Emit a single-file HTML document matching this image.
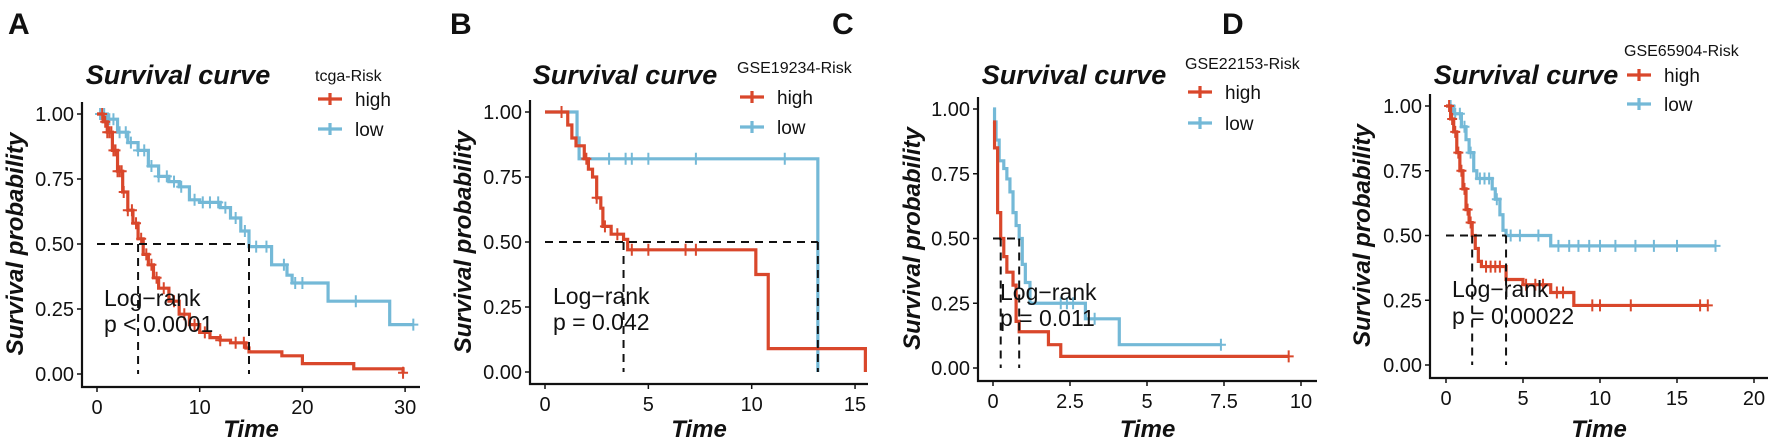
<!DOCTYPE html>
<html><head><meta charset="utf-8"><style>
body{margin:0;background:#fff}
svg{display:block}
text{font-family:"Liberation Sans",Arial,sans-serif;fill:#111}
</style></head><body>
<svg id="c" width="1772" height="442" xmlns="http://www.w3.org/2000/svg"></svg>
<script>
// ---- data ----
const aHighT=[0,0.6,1,1.5,2,2.5,3,3.5,4,4.5,5,5.5,6,7,8,9,10,11,12,13,14.5,14.8,18,20,25,29.8];
const aHighS=[1,0.97,0.93,0.86,0.78,0.7,0.63,0.58,0.52,0.46,0.42,0.37,0.33,0.28,0.23,0.19,0.16,0.14,0.13,0.12,0.1,0.085,0.07,0.04,0.02,0.005];
const aHighC=[0.5,0.8,1,1.2,1.4,1.6,1.8,2,2.2,2.4,2.6,3,3.4,3.8,4.3,4.8,5.3,5.8,6.5,7.5,8.5,9.5,10.5,12,13.5,14.3,29.8];
const aLowT=[0,1,2,3,4,5,6,7,8,9,10,12,13,14,14.8,17,18.5,19,22.5,28.5];
const aLowS=[1,0.98,0.93,0.89,0.86,0.8,0.76,0.74,0.72,0.67,0.66,0.64,0.6,0.55,0.49,0.42,0.38,0.35,0.28,0.19];
const aLowC=[0.3,0.7,1.2,1.6,2.2,2.8,3.3,4,4.6,5.3,6,6.8,7.5,8.2,9.5,10.3,11,11.8,12.5,13.5,14.4,15.5,16.5,18.2,19.3,20,25.2,30.8];
const bHighT=[0,1.1,1.3,1.5,1.9,2.1,2.3,2.5,2.7,2.8,3.2,3.8,4,10.2,10.8,15.5];
const bHighS=[1,0.95,0.9,0.87,0.82,0.78,0.75,0.67,0.63,0.56,0.53,0.51,0.47,0.375,0.09,0];
const bHighC=[0.8,2,2.5,2.9,3.5,4.2,5,6.8,7.3];
const bLowT=[0,1.55,1.65,13.2];
const bLowS=[1,0.9,0.82,0];
const bLowC=[3.1,3.9,4.2,5,7.3,11.6];
const cHighT=[0,0.05,0.15,0.25,0.35,0.45,0.65,0.75,0.85,1.8,2.2];
const cHighS=[0.95,0.85,0.6,0.5,0.43,0.37,0.32,0.18,0.14,0.09,0.045];
const cHighC=[9.6];
const cLowT=[0,0.05,0.1,0.2,0.35,0.45,0.55,0.65,0.75,0.85,0.95,1.05,1.2,3.0,4.1];
const cLowS=[1,0.95,0.88,0.8,0.77,0.73,0.68,0.6,0.55,0.5,0.4,0.33,0.25,0.19,0.09];
const cLowC=[2.2,2.4,2.6,3.3,7.4];
const dHighT=[0,0.3,0.5,0.7,0.9,1.1,1.3,1.5,1.7,1.9,2.1,2.3,3.9,5,6.8,8.3];
const dHighS=[1,0.95,0.9,0.82,0.75,0.68,0.6,0.55,0.5,0.45,0.4,0.38,0.33,0.31,0.28,0.23];
const dHighC=[0.2,0.4,0.6,0.8,1,1.2,1.4,1.6,2.6,2.9,3.2,3.5,5.2,5.8,6.3,7.2,7.6,9.5,10,12,16.5,17];
const dLowT=[0,0.5,1,1.3,1.5,1.8,2,3,3.2,3.5,3.7,3.9,6.8];
const dLowS=[1,0.97,0.92,0.87,0.82,0.75,0.72,0.68,0.64,0.58,0.52,0.5,0.46];
const dLowC=[0.3,0.6,0.9,1.2,1.6,2.2,2.5,2.8,3.3,4.2,4.8,6,7.3,8,8.6,9.3,10,11,12.3,13.5,15,17.5];
const yTicks=[0,0.25,0.5,0.75,1];
const yLabels=["0.00","0.25","0.50","0.75","1.00"];
const panels=[
 {id:"a",letter:"A",lx:8,ax:82,x0:97,pu:10.27,xend:420,y1:114,y0:374,ab:387,xt:[0,10,20,30],xl:["0","10","20","30"],xmax:29.8,lowMax:30.8,
  hT:aHighT,hS:aHighS,hC:aHighC,lT:aLowT,lS:aLowS,lC:aLowC,med:[4,14.8],title:"tcga-Risk",tx:178,lg:[315,75,99,129],ytx:15,lr:[104,298,324],p:"p < 0.0001"},
 {id:"b",letter:"B",lx:450,ax:530,x0:545,pu:20.67,xend:868,y1:112,y0:372,ab:384,xt:[0,5,10,15],xl:["0","5","10","15"],
  hT:bHighT,hS:bHighS,hC:bHighC,lT:bLowT,lS:bLowS,lC:bLowC,med:[3.8,13.2],title:"GSE19234-Risk",tx:625,lg:[737,67,97,127],ytx:463,lr:[553,296,322],p:"p = 0.042",hEnd:15.5,lEnd:13.2},
 {id:"c",letter:"C",lx:832,ax:978,x0:993,pu:30.8,xend:1317,y1:109,y0:368,ab:381,xt:[0,2.5,5,7.5,10],xl:["0","2.5","5","7.5","10"],
  hT:cHighT,hS:cHighS,hC:cHighC,lT:cLowT,lS:cLowS,lC:cLowC,med:[0.25,0.85],title:"GSE22153-Risk",tx:1074,lg:[1185,63,92,123],ytx:912,lr:[1000,292,318],p:"p = 0.011",hEnd:9.6,lEnd:7.4},
 {id:"d",letter:"D",lx:1222,ax:1430,x0:1446,pu:15.4,xend:1768,y1:106,y0:365,ab:378,xt:[0,5,10,15,20],xl:["0","5","10","15","20"],
  hT:dHighT,hS:dHighS,hC:dHighC,lT:dLowT,lS:dLowS,lC:dLowC,med:[1.7,3.9],title:"GSE65904-Risk",tx:1526,lg:[1624,50,75,104],ytx:1362,lr:[1452,289,316],p:"p = 0.00022",hEnd:17,lEnd:17.5}
];
const RED="#D9472B",BLUE="#74B9D7";
const svg=document.getElementById("c");const NS="http://www.w3.org/2000/svg";
function mk(tag,at,parent,txt){const e=document.createElementNS(NS,tag);for(const k in at)e.setAttribute(k,at[k]);if(txt!==undefined)e.textContent=txt;(parent||svg).appendChild(e);return e;}
function stepAt(T,S,t){let s=S[0];for(let i=0;i<T.length;i++){if(T[i]<=t)s=S[i];}return s;}
panels.forEach(P=>{
 const g=mk("g",{});
 
 
 const X=t=>P.x0+t*P.pu, Y=s=>P.y0-(P.y0-P.y1)*s;
 const L=mk("text",{x:P.lx,y:34,"font-size":30,"font-weight":"bold"},g,P.letter);
 
 const ti=mk("text",{x:P.tx,y:84,"font-size":27,"font-weight":"bold","font-style":"italic","text-anchor":"middle"},g,"Survival curve");
 
 // axes
 const ax=mk("path",{d:`M${P.ax},${P.y1-12}V${P.ab}H${P.xend}`,stroke:"#111","stroke-width":2.2,fill:"none"},g);
 
 yTicks.forEach((v,i)=>{mk("line",{x1:P.ax-5,x2:P.ax,y1:Y(v),y2:Y(v),stroke:"#111","stroke-width":1.5},g);
  const t=mk("text",{x:P.ax-8,y:Y(v)+7,"font-size":20,"text-anchor":"end"},g,yLabels[i]);
  });
 P.xt.forEach((v,i)=>{mk("line",{x1:X(v),x2:X(v),y1:P.ab,y2:P.ab+5,stroke:"#111","stroke-width":1.5},g);
  const t=mk("text",{x:X(v),y:P.ab+27,"font-size":20,"text-anchor":"middle"},g,P.xl[i]);
  });
 const xt=mk("text",{x:(P.ax+P.xend)/2,y:437,"font-size":24,"font-weight":"bold","font-style":"italic","text-anchor":"middle"},g,"Time");
 
 const yc=(P.y0+P.y1)/2;
 const yt=mk("text",{x:P.ytx+8,y:yc,"font-size":24,"font-weight":"bold","font-style":"italic","text-anchor":"middle",transform:`rotate(-90 ${P.ytx+8} ${yc})`},g,"Survival probability");
 
 // curves
 function curve(T,S,C,end,col,name){
  let d=`M${X(T[0])},${Y(S[0])}`;
  for(let i=1;i<T.length;i++){d+=`H${X(T[i])}V${Y(S[i])}`;}
  const last=Math.max(end||0,...C,T[T.length-1]);d+=`H${X(last)}`;
  const p=mk("path",{d:d,stroke:col,"stroke-width":3.2,fill:"none"},g);
  
  C.forEach(c=>{const y=Y(stepAt(T,S,c));
   const m=mk("path",{d:`M${X(c)},${y-6}V${y+6}M${X(c)-5},${y}H${X(c)+5}`,stroke:col,"stroke-width":2},g);
   });
 }
 curve(P.lT,P.lS,P.lC,P.lEnd,BLUE,"low");
 curve(P.hT,P.hS,P.hC,P.hEnd,RED,"high");
 // median lines
 const mx=Math.max(...P.med);
 let dd=`M${X(0)},${Y(0.5)}H${X(mx)}`;P.med.forEach(m=>{dd+=`M${X(m)},${Y(0.5)}V${Y(0)}`});
 const ml=mk("path",{d:dd,stroke:"#111","stroke-width":2,"stroke-dasharray":"8,6",fill:"none"},g);
 
 const l1=mk("text",{x:P.lr[0],y:P.lr[1]+8,"font-size":23},g,"Log\u2212rank");
 
 const l2=mk("text",{x:P.lr[0],y:P.lr[2]+8,"font-size":23},g,P.p);
 
 // legend
 const lx=P.lg[0];
 const lt=mk("text",{x:lx,y:P.lg[1]+6,"font-size":16},g,P.title);
 
 [[P.lg[2],RED,"high"],[P.lg[3],BLUE,"low"]].forEach(([y,col,lab])=>{
  const e=mk("g",{},g);
  
  mk("path",{d:`M${lx+3},${y}H${lx+27}M${lx+15},${y-6}V${y+6}`,stroke:col,"stroke-width":3.2},e);
  mk("text",{x:lx+40,y:y+7,"font-size":19},e,lab);
 });
});
</script>
</body></html>
